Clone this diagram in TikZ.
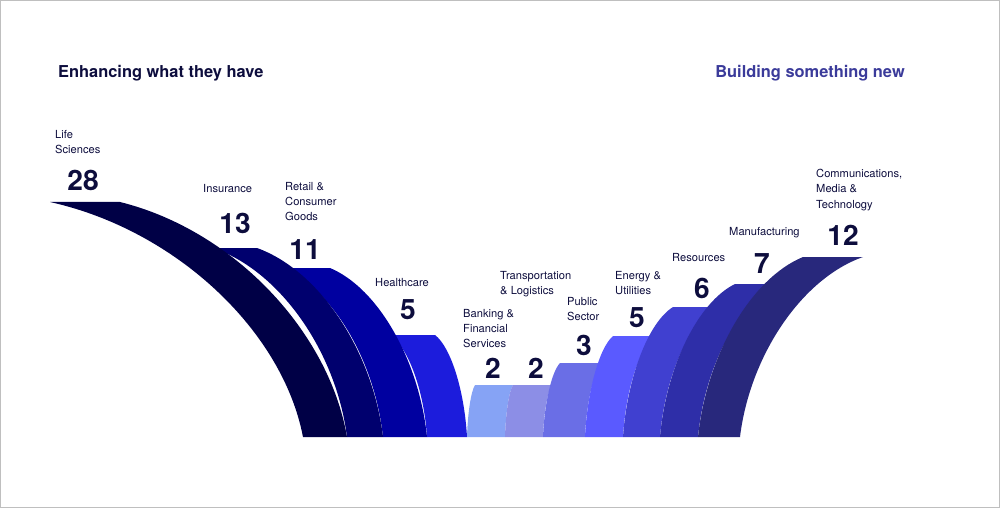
\documentclass[tikz,border=0pt]{standalone}
\usepackage{xcolor}
\usepackage{fontspec}
\setmainfont{TeX Gyre Heros}
\usetikzlibrary{positioning,calc}
\definecolor{ink}{HTML}{0D0D3D}
\definecolor{newtitle}{HTML}{3B3B9A}
\definecolor{cLife}{HTML}{000046}
\definecolor{cIns}{HTML}{00006E}
\definecolor{cRet}{HTML}{0000A0}
\definecolor{cHea}{HTML}{1C1CDC}
\definecolor{cBan}{HTML}{86A3F5}
\definecolor{cTra}{HTML}{8C8EE6}
\definecolor{cPub}{HTML}{6A6EE6}
\definecolor{cEne}{HTML}{5A5AFF}
\definecolor{cRes}{HTML}{4040D0}
\definecolor{cMan}{HTML}{2E2EA8}
\definecolor{cCom}{HTML}{28287C}
% left band: top y, top x1, top x2, bottom x1, bottom x2
\newcommand{\lband}[6]{\fill[#1] (#3,#2) -- (#4,#2)
  .. controls ($(#4,#2)!0.5!(#6,437)+(0,-0.38*437+0.38*#2)$) and ($(#6,437)+(-0.08*#6+0.08*#4,-0.45*437+0.45*#2)$) .. (#6,437)
  -- (#5,437)
  .. controls ($(#5,437)+(-0.08*#5+0.08*#3,-0.45*437+0.45*#2)$) and ($(#3,#2)!0.5!(#5,437)+(0,-0.38*437+0.38*#2)$) .. (#3,#2) -- cycle;}
% right band: mirrored
\newcommand{\rband}[6]{\fill[#1] (#3,#2) -- (#4,#2)
  .. controls ($(#4,#2)!0.5!(#6,437)+(0,-0.38*437+0.38*#2)$) and ($(#6,437)+(-0.08*#6+0.08*#4,-0.45*437+0.45*#2)$) .. (#6,437)
  -- (#5,437)
  .. controls ($(#5,437)+(-0.08*#5+0.08*#3,-0.45*437+0.45*#2)$) and ($(#3,#2)!0.5!(#5,437)+(0,-0.38*437+0.38*#2)$) .. (#3,#2) -- cycle;}

\begin{document}
\begin{tikzpicture}[x=0.03cm,y=-0.03cm,
  sector/.style={anchor=north west,align=left,inner sep=0pt,text=ink,
    font=\fontsize{9.5}{13}\selectfont},
  count/.style={inner sep=0pt,text=ink,font=\fontsize{24}{26}\selectfont\bfseries},
  heading/.style={inner sep=0pt,font=\fontsize{14}{16}\selectfont\bfseries}]
 \useasboundingbox (0,0) rectangle (1000,508);
 \draw[black!25,line width=0.6pt] (0.5,0.5) rectangle (999.5,507.5);

 % enhancing side, inner bands first
 \lband{cHea}{335}{390}{435}{427}{467}
 \lband{cRet}{268}{282}{330}{383}{427}
 \lband{cIns}{248}{213}{257}{347}{383}
 \lband{cLife}{202}{50}{120}{303}{347}
 % building side, inner bands first
 \lband{cBan}{385}{475}{513}{467}{505}
 \rband{cTra}{385}{513}{552}{505}{543}
 \rband{cPub}{363}{560}{602}{543}{585}
 \rband{cEne}{336}{613}{655}{585}{623}
 \rband{cRes}{307}{673}{717}{623}{660}
 \rband{cMan}{284}{735}{778}{660}{698}
 \rband{cCom}{257}{803}{863}{698}{740}

 \node[heading,text=ink,anchor=west] (enhance) at (58,73) {Enhancing what they have};
 \node[heading,text=newtitle,anchor=east] (build) at (905,73) {Building something new};

 \node[sector] (life) at (55,130) {Life\\Sciences};
 \node[count] (nlife) at (83,180) {28};
 \node[sector] (ins) at (203,184) {Insurance};
 \node[count] (nins) at (235,223) {13};
 \node[sector] (ret) at (285,182) {Retail \&\\Consumer\\Goods};
 \node[count] (nret) at (305,250) {11};
 \node[sector] (hea) at (375,278) {Healthcare};
 \node[count] (nhea) at (408,310) {5};
 \node[sector] (ban) at (463,309) {Banking \&\\Financial\\Services};
 \node[count] (nban) at (493,368) {2};
 \node[sector] (tra) at (500,271) {Transportation\\\& Logistics};
 \node[count] (ntra) at (536,368) {2};
 \node[sector] (pub) at (567,297) {Public\\Sector};
 \node[count] (npub) at (584,345) {3};
 \node[sector] (ene) at (615,271) {Energy \&\\Utilities};
 \node[count] (nene) at (637,318) {5};
 \node[sector] (res) at (672,253) {Resources};
 \node[count] (nres) at (702,288) {6};
 \node[sector] (man) at (729,227) {Manufacturing};
 \node[count] (nman) at (762,264) {7};
 \node[sector] (com) at (816,169) {Communications,\\Media \&\\Technology};
 \node[count] (ncom) at (843,235) {12};
\end{tikzpicture}
\end{document}
